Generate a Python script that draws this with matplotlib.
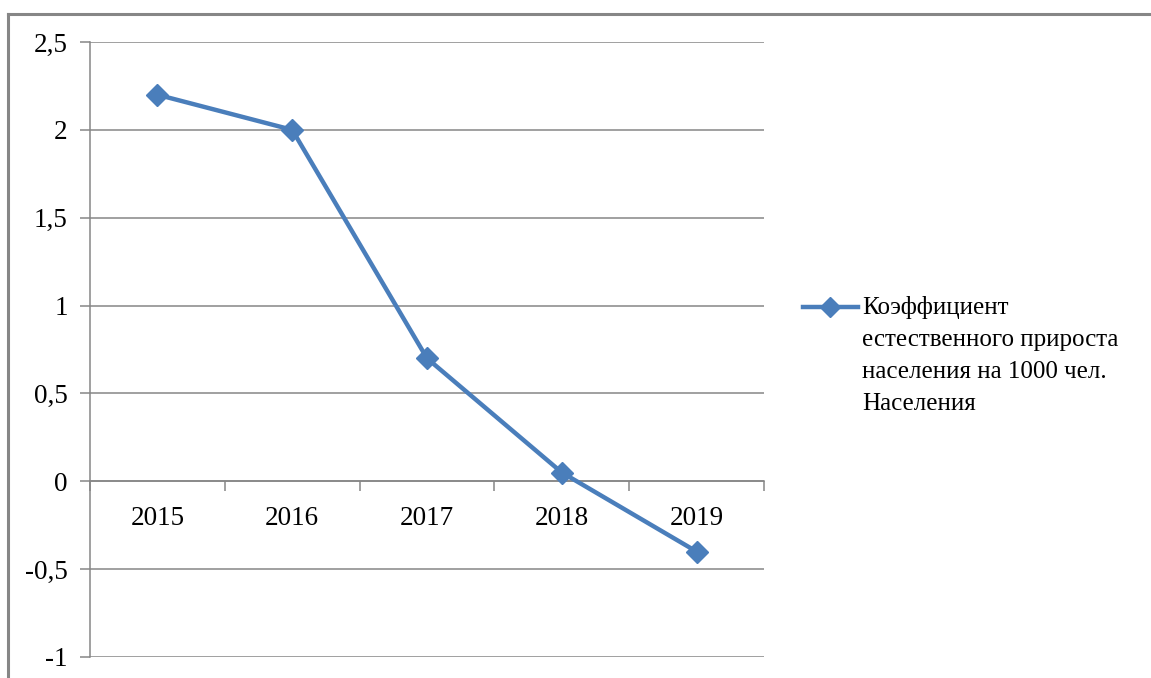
import matplotlib
matplotlib.use("Agg")
import matplotlib.pyplot as plt
from matplotlib.lines import Line2D
from matplotlib.ticker import FuncFormatter, FixedLocator

years = ["2015", "2016", "2017", "2018", "2019"]
values = [2.2, 2.0, 0.7, 0.05, -0.4]
series_label = "Коэффициент\nестественного прироста\nнаселения на 1000 чел.\nНаселения"
y_ticks = [-1, -0.5, 0, 0.5, 1, 1.5, 2, 2.5]

plt.rcParams['font.family'] = ['Liberation Serif', 'DejaVu Serif']
W, H = 1151, 678
fig = plt.figure(figsize=(W / 100, H / 100), dpi=100)
fig.patch.set_facecolor("white")

def fx(px):
    return px / W

def fy(py):
    return 1 - py / H

ax = fig.add_axes([fx(90), fy(657), fx(764) - fx(90), fy(42) - fy(657)])
grey = "#868686"
blue = "#4A7EBB"

x = [i + 0.5 for i in range(len(years))]
ax.plot(x, values, color=blue, lw=3.2, marker="D", ms=11, mfc=blue, mec=blue,
        zorder=5, clip_on=False)

ax.set_xlim(0, len(years))
ax.set_ylim(-1, 2.5)
ax.yaxis.set_major_locator(FixedLocator(y_ticks))
ax.yaxis.set_major_formatter(FuncFormatter(lambda v, p: ("%g" % v).replace(".", ",")))
ax.grid(axis="y", color=grey, lw=1.1)
ax.set_axisbelow(True)

for s in ["top", "right"]:
    ax.spines[s].set_visible(False)
ax.spines["left"].set_color(grey)
ax.spines["left"].set_linewidth(1.1)
ax.spines["bottom"].set_position(("data", 0))
ax.spines["bottom"].set_color(grey)
ax.spines["bottom"].set_linewidth(1.1)

ax.tick_params(axis="y", direction="out", length=7, width=1.1, color=grey,
               labelsize=19.5, pad=9)
ax.set_xticks(x)
ax.set_xticklabels(years)
ax.set_xticks(range(0, len(years) + 1), minor=True)
ax.tick_params(axis="x", which="major", length=0, labelsize=19.5, pad=18)
ax.tick_params(axis="x", which="minor", direction="out", length=7, width=1.1, color=grey)

# chart border (top and left visible)
fig.add_artist(Line2D([fx(8), fx(1151)], [fy(14), fy(14)], color=grey, lw=2.2))
fig.add_artist(Line2D([fx(8), fx(8)], [fy(14), fy(678)], color=grey, lw=2.2))

# legend
fig.add_artist(Line2D([fx(803), fx(858)], [fy(307), fy(307)], color=blue, lw=3.2))
fig.add_artist(Line2D([fx(830)], [fy(307)], color=blue, marker="D", ms=10, lw=0))
fig.text(fx(862), fy(296), series_label, fontsize=18, va="top", ha="left",
         linespacing=1.58)

fig.savefig("out.png", dpi=100, facecolor="white")
